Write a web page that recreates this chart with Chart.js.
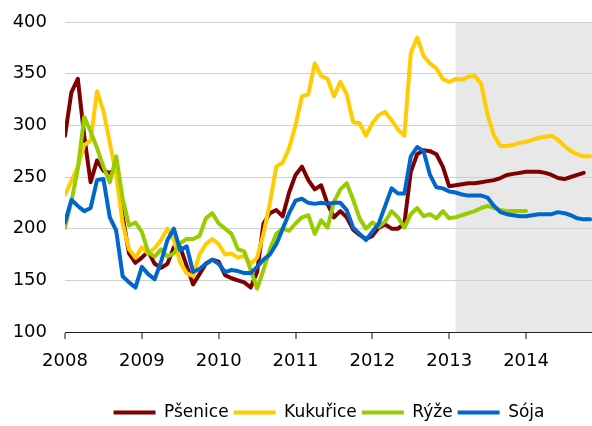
<!DOCTYPE html>
<html>
<head>
<meta charset="utf-8">
<script src="https://cdn.jsdelivr.net/npm/chart.js@4/dist/chart.umd.min.js"></script>
<style>
html,body{margin:0;padding:0;background:#fff;}
#wrap{width:592px;height:426px;position:relative;}
</style>
</head>
<body>
<div id="wrap"><canvas id="c" width="592" height="426"></canvas></div>
<script>
// Month categories (Jan 2008 .. Nov 2014)
const months = [
 '2008-01','2008-02','2008-03','2008-04','2008-05','2008-06','2008-07','2008-08','2008-09','2008-10','2008-11','2008-12',
 '2009-01','2009-02','2009-03','2009-04','2009-05','2009-06','2009-07','2009-08','2009-09','2009-10','2009-11','2009-12',
 '2010-01','2010-02','2010-03','2010-04','2010-05','2010-06','2010-07','2010-08','2010-09','2010-10','2010-11','2010-12',
 '2011-01','2011-02','2011-03','2011-04','2011-05','2011-06','2011-07','2011-08','2011-09','2011-10','2011-11','2011-12',
 '2012-01','2012-02','2012-03','2012-04','2012-05','2012-06','2012-07','2012-08','2012-09','2012-10','2012-11','2012-12',
 '2013-01','2013-02','2013-03','2013-04','2013-05','2013-06','2013-07','2013-08','2013-09','2013-10','2013-11','2013-12',
 '2014-01','2014-02','2014-03','2014-04','2014-05','2014-06','2014-07','2014-08','2014-09','2014-10','2014-11'
];
const yearLabels = ['2008','2009','2010','2011','2012','2013','2014'];
const yTicks = [100,150,200,250,300,350,400];
const seriesNames = ['Pšenice','Kukuřice','Rýže','Sója'];
const forecastStart = '2013-02';

const wheat = [290,332,345,290,245,266,256,254,258,212,176,167,
 172,178,166,162,166,182,182,164,146,156,166,170,
 168,155,152,150,148,143,158,205,215,218,212,235,
 252,260,247,238,242,224,211,217,211,199,194,190,
 193,201,204,200,200,205,255,272,276,275,272,260,
 241,242,243,244,244,245,246,247,249,252,253,254,
 255,255,255,254,252,249,248,250,252,254];
const corn = [233,246,260,281,285,333,314,283,252,205,180,172,
 182,176,181,189,200,189,167,157,154,175,185,190,
 185,175,176,172,174,166,172,195,225,260,264,278,
 300,328,330,360,348,345,328,342,330,303,302,290,
 302,310,313,305,296,290,370,385,367,360,355,345,
 342,345,344,347,348,340,310,290,280,280,281,283,
 284,286,288,289,290,286,280,275,272,270,270];
const rice = [201,226,258,308,294,278,260,245,270,229,203,206,
 197,177,173,180,173,176,186,190,190,193,210,215,
 205,200,195,180,178,160,142,160,180,195,200,198,
 205,211,213,195,208,201,226,238,244,228,210,200,
 206,202,207,217,211,201,214,220,212,214,210,217,
 210,211,213,215,217,220,222,220,218,217,217,217,217];
const soy = [206,228,222,217,220,247,248,211,198,154,148,143,
 163,156,151,168,189,200,179,183,158,161,166,170,
 166,158,160,159,157,157,163,170,175,185,200,215,
 227,229,225,224,225,224,225,225,218,201,195,189,
 197,205,222,239,234,234,270,279,275,252,240,239,
 236,235,233,232,232,232,230,222,216,214,213,212,
 212,213,214,214,214,216,215,213,210,209,209];

const colors = ['#7F0000','#FFCC00','#99CC00','#0066CC'];
const FONT = "'DejaVu Sans', Verdana, sans-serif";

function toPoints(arr){ return arr.map((v,i)=>({x:i,y:v})); }

const shadePlugin = {
  id:'shade',
  beforeDraw(chart){
    const {ctx, chartArea, scales} = chart;
    const x0 = scales.x.getPixelForValue(months.indexOf(forecastStart));
    ctx.save();
    ctx.fillStyle = '#E8E8E8';
    ctx.fillRect(x0, chartArea.top, chartArea.right - x0, chartArea.bottom - chartArea.top);
    ctx.restore();
  }
};
const legendShift = {
  id:'legendShift',
  afterLayout(chart){ if(chart.legend){ chart.legend.left = 66; } }
};

new Chart(document.getElementById('c'), {
  type:'line',
  data:{
    datasets:[wheat,corn,rice,soy].map((arr,k)=>({
      label: seriesNames[k],
      data: toPoints(arr),
      borderColor: colors[k],
      backgroundColor: colors[k],
      borderWidth: 4,
      pointRadius: 0,
      tension: 0,
      borderJoinStyle:'round',
      borderCapStyle:'round',
      fill:false,
      order: 4-k
    }))
  },
  options:{
    responsive:false,
    animation:false,
    layout:{padding:{top:22,right:0,left:0,bottom:-5}},
    plugins:{
      tooltip:{enabled:false},
      legend:{
        position:'bottom',
        labels:{
          boxWidth:42, boxHeight:4, padding:5,
          color:'#000',
          font:{family:FONT,size:17},
          sort:(a,b)=>a.datasetIndex-b.datasetIndex,
          generateLabels:(chart)=>{
            const items = Chart.defaults.plugins.legend.labels.generateLabels(chart);
            return items.map(it=>Object.assign(it,{fillStyle:colors[it.datasetIndex], strokeStyle:colors[it.datasetIndex], lineWidth:0}));
          }
        }
      }
    },
    scales:{
      x:{
        type:'linear',
        min:0, max:months.length-0.7,
        afterFit:(s)=>{ s.height = 67; },
        grid:{drawOnChartArea:false, drawTicks:true, tickLength:7, color:'#888', lineWidth:2},
        border:{display:true, color:'#222', width:1},
        ticks:{
          stepSize:12, includeBounds:false, autoSkip:false, maxRotation:0,
          color:'#000', padding:12,
          font:{family:FONT,size:18},
          callback:(v)=> (v%12===0 ? yearLabels[v/12] : '')
        }
      },
      y:{
        min:yTicks[0], max:yTicks[yTicks.length-1],
        afterFit:(s)=>{ s.width = 65; },
        grid:{color:'#D0D0D0', lineWidth:1, drawTicks:true, tickLength:16, tickColor:'rgba(0,0,0,0)'},
        border:{display:false},
        ticks:{stepSize:50, color:'#000', padding:2, font:{family:FONT,size:18}}
      }
    }
  },
  plugins:[shadePlugin, legendShift]
});
</script>
</body>
</html>
